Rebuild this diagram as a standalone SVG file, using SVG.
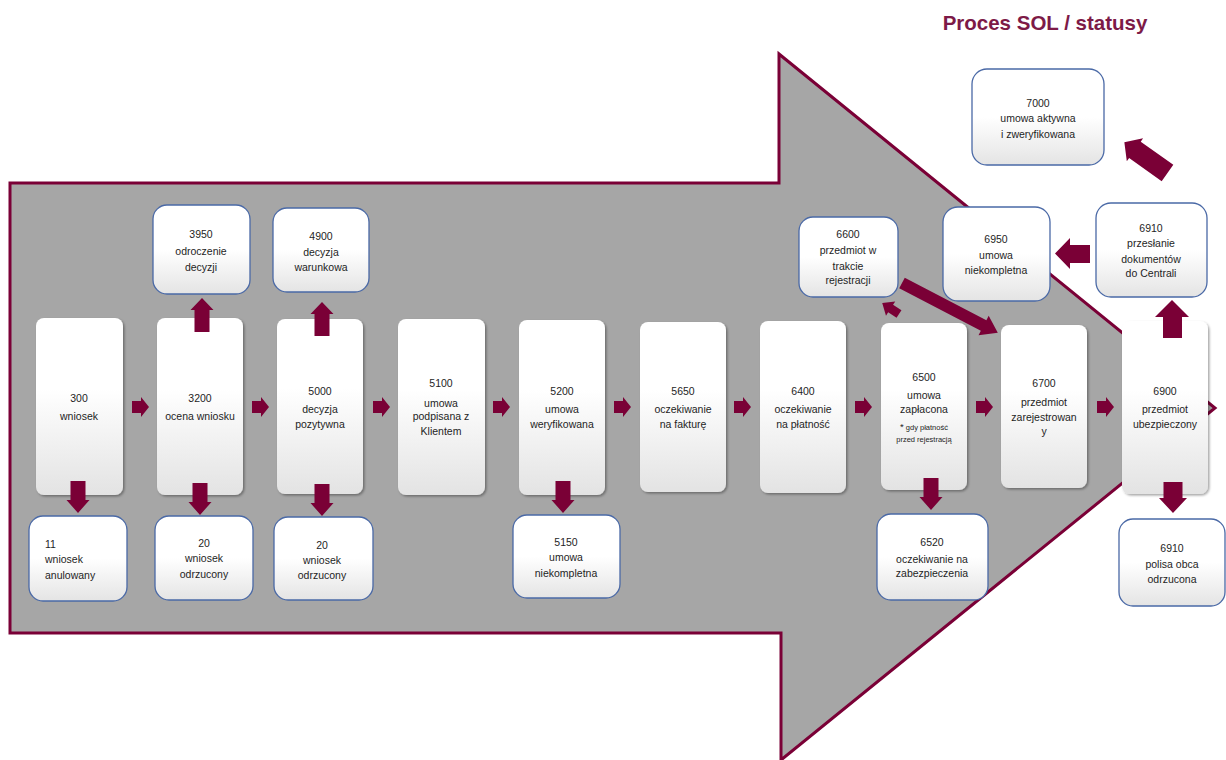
<svg xmlns="http://www.w3.org/2000/svg" xmlns:xlink="http://www.w3.org/1999/xlink" width="1226" height="760" viewBox="0 0 1226 760">
  <style>
    .t { font-family: "Liberation Sans", Arial, sans-serif; font-size: 10.5px; fill: #1e1e1e; text-anchor: middle; }
    .tl { text-anchor: start; }
    .note { font-size: 7.5px; }
    .title { font-family: "Liberation Sans", Arial, sans-serif; font-size: 20.5px; font-weight: bold; fill: #7d1a47; text-anchor: middle; }
    .main { fill: url(#gMain); filter: url(#sh); }
    .side { fill: url(#gSide); stroke: #4a69a6; stroke-width: 1.3; }
    .blk { fill: #7a0036; }
  </style>
  <defs>
    <linearGradient id="gMain" x1="0" y1="0" x2="0" y2="1">
      <stop offset="0" stop-color="#ffffff"/>
      <stop offset="0.4" stop-color="#ffffff"/>
      <stop offset="1" stop-color="#e3e3e3"/>
    </linearGradient>
    <linearGradient id="gSide" x1="0" y1="0" x2="0" y2="1">
      <stop offset="0" stop-color="#ffffff"/>
      <stop offset="0.5" stop-color="#ffffff"/>
      <stop offset="1" stop-color="#e4e4e4"/>
    </linearGradient>
    <filter id="sh" x="-10%" y="-10%" width="130%" height="130%">
      <feDropShadow dx="1.5" dy="1.5" stdDeviation="1.3" flood-color="#000" flood-opacity="0.35"/>
    </filter>
    <!-- block arrows -->
    <path id="ar" d="M0,-6 H9 V-10 L17,0 L9,10 V6 H0 Z"/>
    <path id="ad" d="M-7.5,0 H7.5 V19 H11.5 L0,32 L-11.5,19 H-7.5 Z"/>
    <path id="au" d="M-7.5,0 V-22 H-11.5 L0,-34 L11.5,-22 H7.5 V0 Z"/>
  </defs>

  <rect width="1226" height="760" fill="#ffffff"/>

  <!-- large background process arrow -->
  <path d="M10,183 H779 V54 L1215,408 L781,760 V633 H10 Z" fill="#a6a6a6" stroke="#7a0036" stroke-width="3" stroke-linejoin="miter"/>

  <text class="title" x="1045" y="30">Proces SOL / statusy</text>

  <!-- main status row -->
  <g id="n300">
    <rect class="main" x="36" y="318" width="87" height="177" rx="8"/>
    <text class="t" x="79" y="402">300</text>
    <text class="t" x="79" y="420">wniosek</text>
  </g>
  <g id="n3200">
    <rect class="main" x="157" y="318" width="86" height="177" rx="8"/>
    <text class="t" x="200" y="402">3200</text>
    <text class="t" x="200" y="420">ocena wniosku</text>
  </g>
  <g id="n5000">
    <rect class="main" x="277" y="319" width="86" height="175" rx="8"/>
    <text class="t" x="320" y="395">5000</text>
    <text class="t" x="320" y="413">decyzja</text>
    <text class="t" x="320" y="428">pozytywna</text>
  </g>
  <g id="n5100">
    <rect class="main" x="398" y="319" width="87" height="176" rx="8"/>
    <text class="t" x="441" y="387">5100</text>
    <text class="t" x="441" y="407">umowa</text>
    <text class="t" x="441" y="420">podpisana z</text>
    <text class="t" x="441" y="435">Klientem</text>
  </g>
  <g id="n5200">
    <rect class="main" x="519" y="320" width="86" height="175" rx="8"/>
    <text class="t" x="562" y="395">5200</text>
    <text class="t" x="562" y="413">umowa</text>
    <text class="t" x="562" y="428">weryfikowana</text>
  </g>
  <g id="n5650">
    <rect class="main" x="640" y="322" width="86" height="170" rx="8"/>
    <text class="t" x="683" y="395">5650</text>
    <text class="t" x="683" y="413">oczekiwanie</text>
    <text class="t" x="683" y="428">na fakturę</text>
  </g>
  <g id="n6400">
    <rect class="main" x="760" y="321" width="86" height="172" rx="8"/>
    <text class="t" x="803" y="395">6400</text>
    <text class="t" x="803" y="413">oczekiwanie</text>
    <text class="t" x="803" y="428">na płatność</text>
  </g>
  <g id="n6500">
    <rect class="main" x="881" y="323" width="86" height="167" rx="8"/>
    <text class="t" x="924" y="381">6500</text>
    <text class="t" x="924" y="399">umowa</text>
    <text class="t" x="924" y="413">zapłacona</text>
    <text class="t note" x="924" y="430"><tspan font-size="9.5px">*</tspan> gdy płatność</text>
    <text class="t note" x="924" y="442">przed rejestracją</text>
  </g>
  <g id="n6700">
    <rect class="main" x="1001" y="325" width="86" height="163" rx="8"/>
    <text class="t" x="1044" y="387">6700</text>
    <text class="t" x="1044" y="406">przedmiot</text>
    <text class="t" x="1044" y="421">zarejestrowan</text>
    <text class="t" x="1044" y="435">y</text>
  </g>
  <g id="n6900">
    <rect class="main" x="1122" y="321" width="86" height="173" rx="8"/>
    <text class="t" x="1165" y="395">6900</text>
    <text class="t" x="1165" y="413">przedmiot</text>
    <text class="t" x="1165" y="428">ubezpieczony</text>
  </g>

  <!-- side statuses -->
  <g id="n3950">
    <rect class="side" x="153" y="205" width="97" height="89" rx="14"/>
    <text class="t" x="201" y="238">3950</text>
    <text class="t" x="201" y="255">odroczenie</text>
    <text class="t" x="201" y="271">decyzji</text>
  </g>
  <g id="n4900">
    <rect class="side" x="273" y="208" width="96" height="84" rx="14"/>
    <text class="t" x="321" y="240">4900</text>
    <text class="t" x="321" y="256">decyzja</text>
    <text class="t" x="321" y="271">warunkowa</text>
  </g>
  <g id="n11">
    <rect class="side" x="29" y="516" width="98" height="85" rx="14"/>
    <text class="t tl" x="45" y="548">11</text>
    <text class="t tl" x="45" y="563">wniosek</text>
    <text class="t tl" x="45" y="579">anulowany</text>
  </g>
  <g id="n20a">
    <rect class="side" x="155" y="516" width="98" height="84" rx="14"/>
    <text class="t" x="204" y="547">20</text>
    <text class="t" x="204" y="562">wniosek</text>
    <text class="t" x="204" y="578">odrzucony</text>
  </g>
  <g id="n20b">
    <rect class="side" x="274" y="517" width="99" height="83" rx="14"/>
    <text class="t" x="322" y="549">20</text>
    <text class="t" x="322" y="564">wniosek</text>
    <text class="t" x="322" y="579">odrzucony</text>
  </g>
  <g id="n5150">
    <rect class="side" x="513" y="515" width="107" height="83" rx="14"/>
    <text class="t" x="566" y="546">5150</text>
    <text class="t" x="566" y="561">umowa</text>
    <text class="t" x="566" y="577">niekompletna</text>
  </g>
  <g id="n6600">
    <rect class="side" x="799" y="217" width="99" height="80" rx="14"/>
    <text class="t" x="848" y="238">6600</text>
    <text class="t" x="848" y="254">przedmiot w</text>
    <text class="t" x="848" y="270">trakcie</text>
    <text class="t" x="848" y="284">rejestracji</text>
  </g>
  <g id="n6950">
    <rect class="side" x="943" y="207" width="107" height="94" rx="15"/>
    <text class="t" x="996" y="243">6950</text>
    <text class="t" x="996" y="259">umowa</text>
    <text class="t" x="996" y="274">niekompletna</text>
  </g>
  <g id="n6910a">
    <rect class="side" x="1096" y="203" width="111" height="94" rx="15"/>
    <text class="t" x="1151" y="232">6910</text>
    <text class="t" x="1151" y="247">przesłanie</text>
    <text class="t" x="1151" y="263">dokumentów</text>
    <text class="t" x="1151" y="277">do Centrali</text>
  </g>
  <g id="n7000">
    <rect class="side" x="972" y="69" width="132" height="96" rx="15"/>
    <text class="t" x="1038" y="107">7000</text>
    <text class="t" x="1038" y="122">umowa aktywna</text>
    <text class="t" x="1038" y="138">i zweryfikowana</text>
  </g>
  <g id="n6520">
    <rect class="side" x="877" y="514" width="111" height="86" rx="14"/>
    <text class="t" x="932" y="546">6520</text>
    <text class="t" x="932" y="563">oczekiwanie na</text>
    <text class="t" x="932" y="577">zabezpieczenia</text>
  </g>
  <g id="n6910b">
    <rect class="side" x="1119" y="519" width="106" height="87" rx="14"/>
    <text class="t" x="1172" y="552">6910</text>
    <text class="t" x="1172" y="568">polisa obca</text>
    <text class="t" x="1172" y="583">odrzucona</text>
  </g>

  <!-- connectors, drawn over the boxes -->
  <g id="connectors" class="blk">
    <use href="#ar" x="132" y="407"/>
    <use href="#ar" x="252" y="407"/>
    <use href="#ar" x="373" y="407"/>
    <use href="#ar" x="493" y="407"/>
    <use href="#ar" x="614" y="407"/>
    <use href="#ar" x="734" y="407"/>
    <use href="#ar" x="855" y="407"/>
    <use href="#ar" x="976" y="407"/>
    <use href="#ar" x="1097" y="407"/>

    <use href="#ad" x="78" y="481"/>
    <use href="#ad" x="200" y="483"/>
    <use href="#ad" x="322" y="484"/>
    <use href="#ad" x="563" y="481"/>
    <use href="#ad" x="931" y="478"/>
    <path d="M1163.5,482 H1182.5 V498 H1187 L1173,513 L1159,498 H1163.5 Z"/>

    <use href="#au" x="202" y="332"/>
    <use href="#au" x="322" y="336"/>
    <path d="M1163,338 V317 H1155 L1172,300 L1189,317 H1182 V338 Z"/>

    <path d="M1090,245 H1070 V238 L1055,253.5 L1070,269 V263 H1090 Z"/>

    <path transform="translate(902,283) rotate(27.5)" d="M0,-6 H92 V-11 L108,0 L92,11 V6 H0 Z"/>
    <path transform="translate(899,314) rotate(213)" d="M0,-4.5 H10 V-8.5 L20,0 L10,8.5 V4.5 H0 Z"/>
    <path transform="translate(1167.5,173) rotate(215.5)" d="M0,-10 H40 V-14 L53,0 L40,14 V10 H0 Z"/>
  </g>
</svg>
